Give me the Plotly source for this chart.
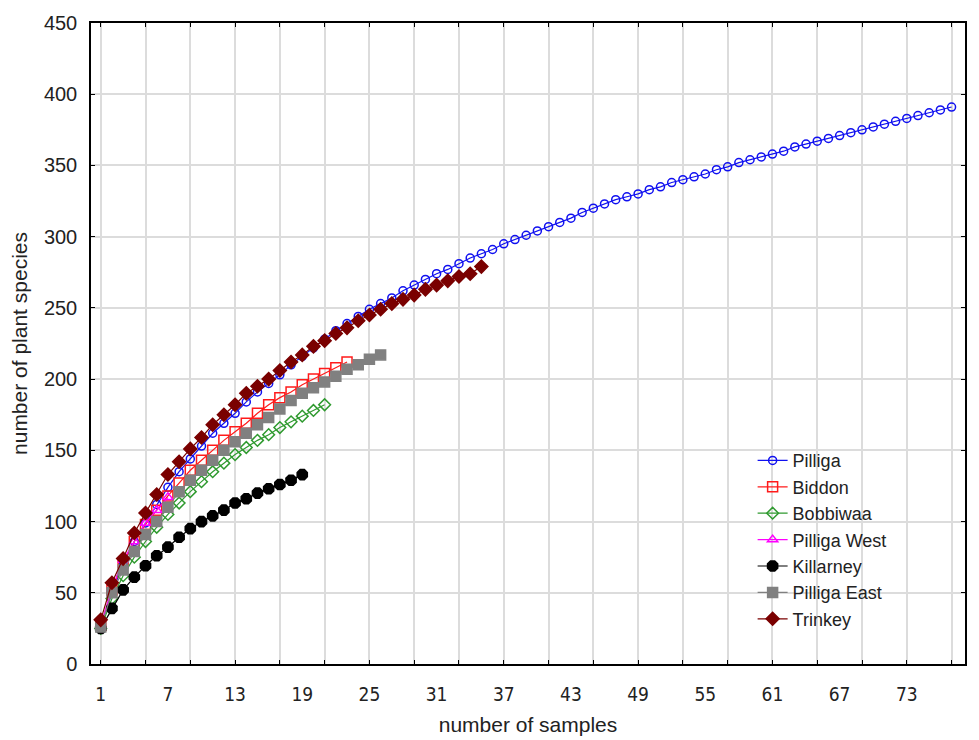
import plotly.graph_objects as go

# ---- data ----
pilliga = [26, 50, 70, 86, 99, 112, 124, 135, 144, 153, 162, 169, 176, 184, 191, 197, 203, 210, 216, 222,
           228, 234, 239, 244, 249, 253, 257, 262, 266, 270, 274, 277, 281, 285, 288, 291, 295, 298, 301, 304,
           307, 310, 313, 317, 320, 323, 326, 328, 330, 333, 335, 338, 340, 342, 344, 347, 349, 352, 354, 356,
           358, 360, 363, 365, 367, 369, 371, 373, 375, 377, 379, 381, 383, 385, 387, 389, 391]
biddon = [27, 52, 71, 86, 98, 108, 118, 127, 136, 143, 150, 157, 163, 169, 176, 182, 187, 191, 196, 200,
          204, 208, 212]
bobbiwaa = [25, 46, 62, 75, 86, 96, 105, 113, 121, 128, 135, 141, 147, 152, 157, 161, 166, 170, 174, 178, 182]
pilliga_west = [27, 53, 73, 86, 99, 108, 117]
killarney = [25, 39, 52, 61, 69, 76, 82, 89, 95, 100, 104, 108, 113, 116, 120, 123, 126, 129, 133]
pilliga_east = [26, 50, 66, 79, 91, 100, 110, 121, 129, 136, 143, 150, 156, 162, 168, 173, 179, 185, 190, 194,
                198, 202, 207, 210, 214, 217]
trinkey = [31, 57, 74, 92, 106, 119, 133, 142, 151, 159, 168, 175, 182, 190, 195, 200, 206, 212, 217, 223,
           227, 232, 236, 241, 245, 249, 253, 256, 259, 263, 266, 269, 272, 274, 279]

x_tick_vals = [1, 7, 13, 19, 25, 31, 37, 43, 49, 55, 61, 67, 73]
y_tick_vals = [0, 50, 100, 150, 200, 250, 300, 350, 400, 450]

series = [
    ("Pilliga", pilliga, "#1010f0", "circle-open", 8),
    ("Biddon", biddon, "#ff1a1a", "square-open", 10),
    ("Bobbiwaa", bobbiwaa, "#2f9a2f", "diamond-open", 9),
    ("Pilliga West", pilliga_west, "#ff00ff", "triangle-up-open", 9),
    ("Killarney", killarney, "#000000", "octagon", 11),
    ("Pilliga East", pilliga_east, "#808080", "square", 10),
    ("Trinkey", trinkey, "#7a0000", "diamond", 10),
]

fig = go.Figure()
for name, vals, color, sym, size in series:
    xs = list(range(1, len(vals) + 1))
    fig.add_trace(go.Scatter(
        x=xs, y=vals, name=name, mode="lines+markers",
        line=dict(color=color, width=1.2),
        marker=dict(symbol=sym, size=size, color=color,
                    line=dict(color=color, width=1.5)),
    ))

fig.update_layout(
    width=979, height=740,
    margin=dict(l=83, r=22, t=15, b=84),
    paper_bgcolor="white", plot_bgcolor="white",
    font=dict(family="Liberation Sans, Arial, sans-serif", color="#222222"),
    showlegend=True,
    legend=dict(
        x=0.757, y=0.346, xanchor="left", yanchor="top",
        bgcolor="rgba(0,0,0,0)", font=dict(size=18, color="#222222"),
        tracegroupgap=0, itemwidth=30,
    ),
)

fig.update_xaxes(
    range=[0.13, 78.2],
    tickmode="array", tickvals=x_tick_vals,
    ticktext=[str(v) for v in x_tick_vals],
    ticks="", showgrid=False,
    tickfont=dict(family="DejaVu Sans Condensed, Liberation Sans Narrow, sans-serif", size=19, color="#222222"),
    ticklabelstandoff=12,
    minor=dict(tick0=1, dtick=4, showgrid=True, gridcolor="#dcdcdc", gridwidth=2,
               ticks="inside", ticklen=4, tickcolor="#000000"),
    showline=True, linecolor="#000000", linewidth=1.5, mirror="allticks",
    zeroline=False, automargin=False,
    title=dict(text="number of samples", font=dict(size=21, color="#222222"), standoff=14),
)
fig.update_yaxes(
    range=[0, 450],
    tickmode="array", tickvals=y_tick_vals,
    showgrid=True, gridcolor="#dcdcdc", gridwidth=2,
    ticks="inside", ticklen=4, tickcolor="#000000",
    tickfont=dict(size=20, color="#222222"),
    ticklabelstandoff=8,
    showline=True, linecolor="#000000", linewidth=1.5, mirror="allticks",
    zeroline=False, automargin=False,
    title=dict(text="number of plant species", font=dict(size=21, color="#222222"), standoff=14),
)

fig.write_html("out.html")
